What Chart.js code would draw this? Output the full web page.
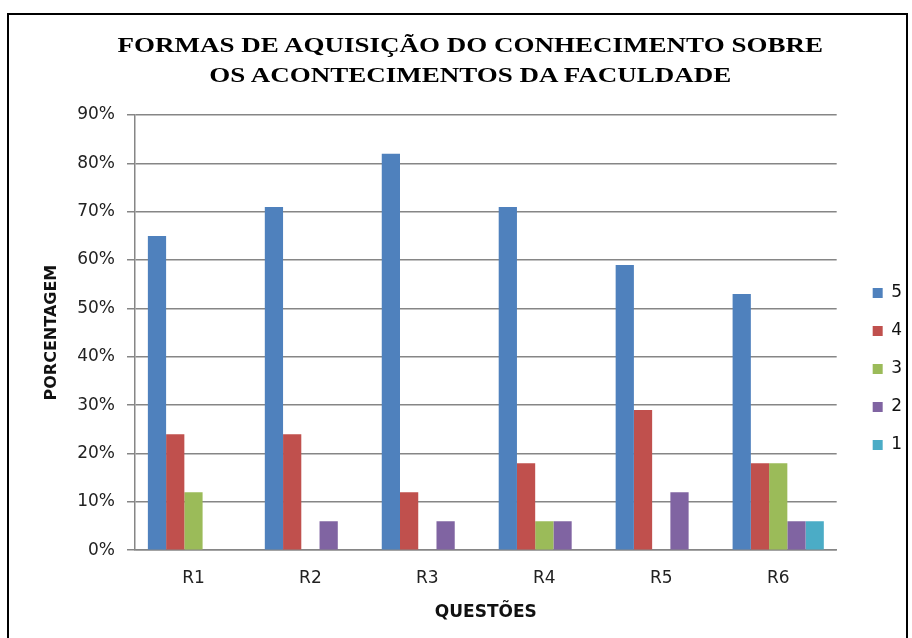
<!DOCTYPE html>
<html>
<head>
<meta charset="utf-8">
<title>Formas de aquisição do conhecimento</title>
<script src="https://cdn.jsdelivr.net/npm/chart.js@4.4.0/dist/chart.umd.min.js"></script>
<style>
  html, body { margin: 0; padding: 0; background: #fff; }
  #wrap { position: relative; width: 912px; height: 638px; overflow: hidden; }
  #frame { position: absolute; left: 7px; top: 13px; width: 897px; height: 700px; border: 2px solid #000; }
  #title { position: absolute; left: 0; top: 30px; width: 940px; text-align: center;
           font-family: 'Liberation Serif', serif; font-weight: bold; font-size: 20px; line-height: 30px; color: #000; }
  #title span { display: inline-block; transform: scaleX(1.35); transform-origin: center; white-space: nowrap; }
  #chartBox { position: absolute; left: 0; top: 0; width: 912px; height: 638px; }
</style>
</head>
<body>
<div id="wrap">
  <div id="frame"></div>
  <div id="chartBox"><canvas id="barChart"></canvas></div>
  <div id="title"><span>FORMAS DE AQUISIÇÃO DO CONHECIMENTO SOBRE</span><br><span>OS ACONTECIMENTOS DA FACULDADE</span></div>
</div>
<script>
// data
var categories = ['R1', 'R2', 'R3', 'R4', 'R5', 'R6'];
var seriesNames = ['5', '4', '3', '2', '1'];
var values5 = [65, 71, 82, 71, 59, 53];
var values4 = [24, 24, 12, 18, 29, 18];
var values3 = [12, 0, 0, 6, 0, 18];
var values2 = [0, 6, 6, 6, 12, 6];
var values1 = [0, 0, 0, 0, 0, 6];
var yTickMax = 90;
var yTickStep = 10;

var seriesColors = ['#4F81BD', '#C0504D', '#9BBB59', '#8064A2', '#4BACC6'];
var seriesValues = [values5, values4, values3, values2, values1];

var datasets = [];
for (var i = 0; i < seriesNames.length; i++) {
	datasets.push({
		label: seriesNames[i],
		data: seriesValues[i],
		backgroundColor: seriesColors[i],
		borderWidth: 0,
		categoryPercentage: 0.78,
		barPercentage: 1.0
	});
}

// move the legend a bit to the right, like the original
var legendShift = {
	id: 'legendShift',
	afterLayout: function(chart) {
		var lg = chart.legend;
		var dx = 15, dy = -2;
		lg.left += dx; lg.right += dx;
		lg.top += dy; lg.bottom += dy;
	}
};

var tickFont = { family: 'DejaVu Sans', size: 17 };

new Chart(document.getElementById('barChart').getContext('2d'), {
	type: 'bar',
	data: { labels: categories, datasets: datasets },
	plugins: [legendShift],
	options: {
		responsive: true,
		maintainAspectRatio: false,
		animation: false,
		layout: { padding: { top: 115, left: 38, right: 15, bottom: 11 } },
		plugins: {
			legend: {
				position: 'right',
				labels: { boxWidth: 10, boxHeight: 10, padding: 21, color: '#111', font: tickFont }
			},
			tooltip: { enabled: false }
		},
		scales: {
			x: {
				grid: { display: false },
				border: { color: '#868686', width: 1.5 },
				ticks: { color: '#222', font: tickFont, padding: 10 },
				title: { display: true, text: 'QUESTÕES', color: '#111',
					font: { family: 'DejaVu Sans', size: 17, weight: 'bold' }, padding: { top: 4, bottom: 4 } }
			},
			y: {
				min: 0,
				max: yTickMax,
				ticks: { stepSize: yTickStep, color: '#222', font: tickFont, padding: 12,
					callback: function(v) { return v + '%'; } },
				grid: { color: '#868686', lineWidth: 1.5, tickLength: 8 },
				border: { color: '#868686', width: 1.5 },
				title: { display: true, text: 'PORCENTAGEM', color: '#111',
					font: { family: 'DejaVu Sans', size: 16, weight: 'bold' } },
				afterFit: function(scale) { scale.width = 97; }
			}
		}
	}
});
</script>
</body>
</html>
